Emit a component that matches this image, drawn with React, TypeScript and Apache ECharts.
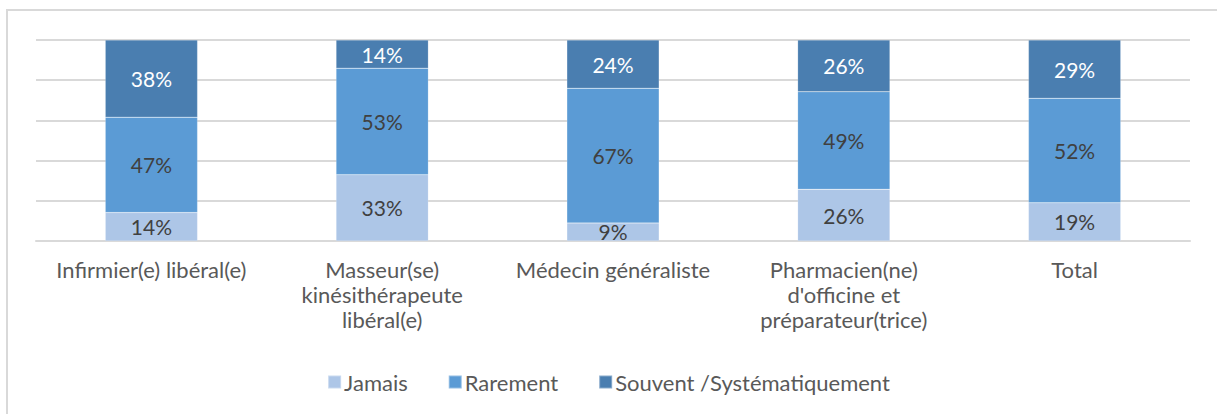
import React, { useEffect, useRef } from "react";
import * as echarts from "echarts";

const categories = [
  "Infirmier(e) libéral(e)",
  "Masseur(se)\nkinésithérapeute\nlibéral(e)",
  "Médecin généraliste",
  "Pharmacien(ne)\nd'officine et\npréparateur(trice)",
  "Total",
];
const seriesNames = ["Jamais", "Rarement", "Souvent /Systématiquement"];
const jamais = [14, 33, 9, 26, 19];
const rarement = [47, 53, 67, 49, 52];
const souvent = [38, 14, 24, 26, 29];
const colors = ["#adc6e7", "#5b9bd5", "#4a7eb0"];
const labelColors = ["#404040", "#404040", "#ffffff"];

export default function App() {
  const ref = useRef<HTMLDivElement>(null);
  useEffect(() => {
    document.body.style.margin = "0";
    const chart = echarts.init(ref.current!, null, { renderer: "svg" });
    const raw = [jamais, rarement, souvent];
    const totals = categories.map((_, i) => raw.reduce((s, a) => s + a[i], 0));
    const font = "Lato, 'Open Sans', sans-serif";
    chart.setOption({
      animation: false,
      textStyle: { fontFamily: font },
      graphic: [
        {
          type: "rect",
          shape: { x: 7, y: 10, width: 1230, height: 430 },
          style: { fill: "none", stroke: "#d9d9d9", lineWidth: 2 },
          silent: true,
        },
      ],
      grid: { left: 36, right: 27, top: 40, bottom: 173, containLabel: false },
      legend: {
        bottom: 16,
        left: "center",
        itemWidth: 13,
        itemHeight: 13,
        itemGap: 40,
        icon: "rect",
        textStyle: { fontSize: 22, color: "#595959", fontFamily: font, padding: [0, 0, 0, -2] },
        data: seriesNames,
      },
      xAxis: {
        type: "category",
        data: categories,
        axisLine: { show: true, lineStyle: { color: "#d9d9d9", width: 2 } },
        axisTick: { show: false },
        axisLabel: {
          fontSize: 22,
          color: "#595959",
          lineHeight: 25,
          margin: 16,
          interval: 0,
          fontFamily: font,
        },
      },
      yAxis: {
        type: "value",
        min: 0,
        max: 100,
        interval: 20,
        axisLabel: { show: false },
        axisLine: { show: false },
        axisTick: { show: false },
        splitLine: { lineStyle: { color: "#d9d9d9", width: 2 } },
      },
      series: raw.map((arr, si) => ({
        name: seriesNames[si],
        type: "bar",
        stack: "all",
        barWidth: "40%",
        itemStyle: { color: colors[si], borderColor: "rgba(255,255,255,0.35)", borderWidth: 0.5 },
        label: {
          show: true,
          position: "inside",
          fontSize: 21,
          color: labelColors[si],
          fontFamily: font,
          formatter: (p: any) => arr[p.dataIndex] + "%",
        },
        data: arr.map((v, i) => (v / totals[i]) * 100),
      })),
    });
    return () => chart.dispose();
  }, []);
  return <div ref={ref} style={{ width: 1217, height: 414 }} />;
}
